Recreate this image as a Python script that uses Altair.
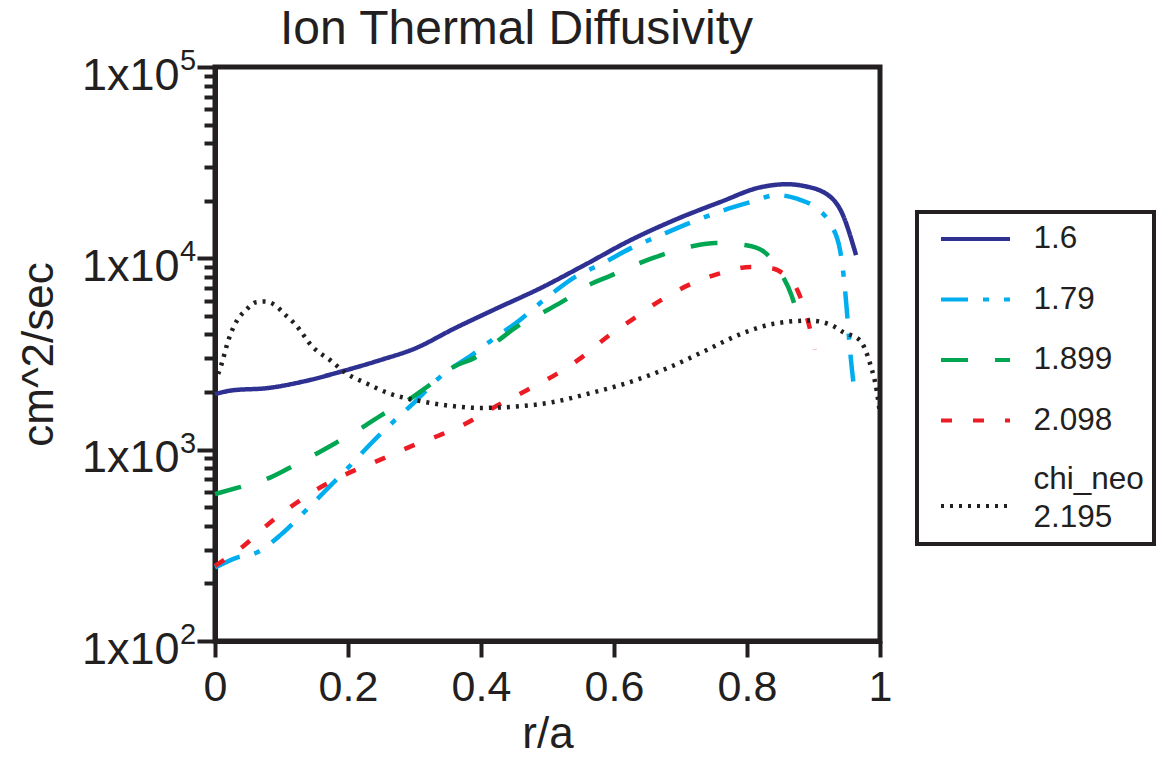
import altair as alt
import pandas as pd

# ---------------- data ----------------
series_names = ["1.6", "1.79", "1.899", "2.098", "chi_neo|2.195"]

r_160 = [0, 0.025, 0.08, 0.135, 0.195, 0.25, 0.3, 0.36, 0.42, 0.49, 0.56, 0.62,
         0.69, 0.76, 0.82, 0.86, 0.885, 0.922, 0.942, 0.964]
v_160 = [1950, 2040, 2100, 2280, 2590, 2950, 3370, 4300, 5400, 7000, 9400, 12200,
         15800, 19700, 23500, 24400, 23900, 21400, 17500, 10400]

r_179 = [0, 0.033, 0.063, 0.1, 0.135, 0.171, 0.203, 0.236, 0.271, 0.297, 0.344,
         0.385, 0.419, 0.453, 0.5, 0.541, 0.582, 0.629, 0.67, 0.718, 0.758, 0.806,
         0.845, 0.875, 0.905, 0.925, 0.94, 0.947, 0.951, 0.955, 0.962]
v_179 = [242, 273, 290, 362, 475, 635, 824, 1090, 1430, 1730, 2490,
         3100, 3800, 4600, 6270, 7980, 9380, 11460, 13200, 15500, 17500, 19700,
         21400, 20500, 18200, 15200, 11000, 7100, 4900, 3300, 1960]

r_1899 = [0, 0.033, 0.078, 0.113, 0.15, 0.183, 0.218, 0.251, 0.293, 0.318, 0.358,
          0.392, 0.426, 0.453, 0.494, 0.521, 0.561, 0.596, 0.636, 0.67, 0.718,
          0.752, 0.799, 0.826, 0.85, 0.867, 0.88]
v_1899 = [586, 631, 703, 807, 942, 1092, 1283, 1520, 1840, 2120, 2700,
          3040, 3720, 4370, 5230, 5900, 7220, 8150, 9380, 10370, 11570,
          12030, 11700, 10800, 8470, 6400, 4500]

r_2098 = [0, 0.043, 0.08, 0.12, 0.16, 0.203, 0.248, 0.291, 0.336, 0.378, 0.418,
          0.466, 0.514, 0.555, 0.589, 0.629, 0.67, 0.711, 0.758, 0.806, 0.84,
          0.857, 0.877, 0.892, 0.902]
v_2098 = [247, 314, 408, 520, 640, 761, 884, 1028, 1183, 1374, 1652,
          2020, 2490, 3100, 3870, 4830, 6030, 7220, 8320, 9010, 8830,
          8150, 6670, 4650, 3340]

r_neo = [0, 0.01, 0.02, 0.033, 0.045, 0.062, 0.075, 0.09, 0.105, 0.12, 0.147,
         0.174, 0.195, 0.229, 0.263, 0.303, 0.351, 0.398, 0.453, 0.507, 0.561,
         0.623, 0.684, 0.738, 0.792, 0.84, 0.895, 0.928, 0.945, 0.97, 0.985,
         0.995, 1.0]
v_neo = [2250, 2810, 3720, 4730, 5300, 5900, 5950, 5700, 5100, 4550, 3440,
         2920, 2540, 2210, 1960, 1810, 1700, 1652, 1680, 1770, 1960,
         2250, 2700, 3300, 4040, 4550, 4730, 4460, 4110, 3720, 2820,
         2040, 1540]

series_colors = ["#2e3192", "#00aeef", "#00a651", "#ed1c24", "#231f20"]
series_dashes = [[1, 0], [27, 15, 6, 15], [27, 27], [11, 21], [3, 6]]

x_ticks = [0, 0.2, 0.4, 0.6, 0.8, 1]
y_major = [100, 1000, 10000, 100000]
y_exponents = ["2", "3", "4", "5"]
y_minor = [k * 10 ** n for n in (2, 3, 4) for k in range(2, 10)]

# ---------------- build tables ----------------
rows = []
for name, rs, vs in zip(series_names,
                        [r_160, r_179, r_1899, r_2098, r_neo],
                        [v_160, v_179, v_1899, v_2098, v_neo]):
    for i, (r, v) in enumerate(zip(rs, vs)):
        rows.append({"r": r, "chi": v, "series": name, "order": i})
df = pd.DataFrame(rows)
exp_df = pd.DataFrame({"chi": y_major, "exp": y_exponents})

FONT = "Liberation Sans"
INK = "#231f20"

major_test = "datum.value == 100 || datum.value == 1000 || datum.value == 10000 || datum.value == 100000"
y_label_expr = "(" + major_test + ") ? '1x10' : ''"
two_line = "indexof(datum.value, '|') >= 0"

legend = alt.Legend(
    title=None,
    orient="none",
    legendX=702,
    legendY=145,
    symbolType={"expr": two_line + " ? 'M-2.3,0.47L2.3,0.47' : 'M-2.3,0L2.3,0'"},
    symbolSize=900,
    symbolStrokeWidth=4,
    symbolOffset=31.5,
    labelFontSize=31.5,
    labelFont=FONT,
    labelColor=INK,
    labelOffset=41,
    labelLimit=400,
    labelExpr="split(datum.label, '|')",
    labelBaseline={"expr": two_line + " ? 'line-bottom' : 'middle'"},
    rowPadding=27.5,
    padding=10,
    strokeColor=INK,
    fillColor="white",
    cornerRadius=0,
)

lines = alt.Chart(df).mark_line(strokeWidth=4.5, interpolate="monotone").encode(
    x=alt.X(
        "r:Q",
        scale=alt.Scale(domain=[0, 1], nice=False, zero=False),
        axis=alt.Axis(
            values=x_ticks, format="~g", title="r/a",
            tickSize=16, labelPadding=9, labelFontSize=43, labelFlush=False,
            titleFontSize=44, titleBaseline="alphabetic", titleY=106,
        ),
    ),
    y=alt.Y(
        "chi:Q",
        scale=alt.Scale(type="log", domain=[100, 100000], nice=False),
        axis=alt.Axis(
            values=y_major + y_minor,
            labelExpr=y_label_expr,
            tickSize={"condition": {"test": major_test, "value": 18}, "value": 11},
            labelPadding=18, labelFontSize=45, labelBaseline="alphabetic",
            labelOffset=22, labelOverlap=False,
            title="cm^2/sec", titleFontSize=44, titleAngle=270,
            titleAlign="center", titleBaseline="alphabetic",
            titleX=-163, titleY=287,
        ),
    ),
    color=alt.Color("series:N",
                    scale=alt.Scale(domain=series_names, range=series_colors),
                    legend=legend),
    strokeDash=alt.StrokeDash("series:N",
                              scale=alt.Scale(domain=series_names, range=series_dashes),
                              legend=legend),
    order="order:Q",
)

# superscript exponents of the y tick labels
exponents = alt.Chart(exp_df).mark_text(
    align="left", baseline="alphabetic", fontSize=29, font=FONT, color=INK,
    dx=-35, dy=3,
).encode(
    x=alt.value(0),
    y=alt.Y("chi:Q"),
    text="exp:N",
)

chart = alt.layer(lines, exponents).properties(
    width=665,
    height=574,
    title=alt.TitleParams(
        "Ion Thermal Diffusivity", fontSize=48, font=FONT, fontWeight="normal",
        color=INK, anchor="middle", dx=-31, baseline="alphabetic", offset=-45,
    ),
    autosize=alt.AutoSizeParams(type="none"),
    padding={"left": 207, "top": 59, "right": 288, "bottom": 110},
).configure(
    style={"guide-label": {"lineHeight": 38}},
).configure_view(
    stroke=INK, strokeWidth=5,
).configure_axis(
    domainColor=INK, domainWidth=5, tickColor=INK, tickWidth=4,
    labelFont=FONT, labelColor=INK, titleFont=FONT, titleColor=INK,
    titleFontWeight="normal", grid=False,
).configure_legend(
    strokeWidth=4,
)

chart.save("out.html", embed_options={"renderer": "svg", "actions": False})
